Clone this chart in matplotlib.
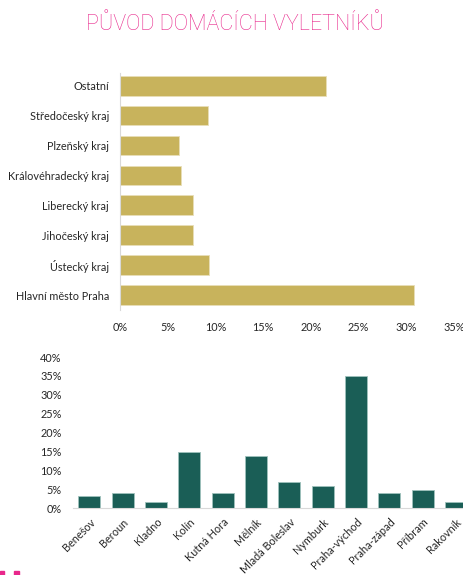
import matplotlib
matplotlib.use('Agg')
import matplotlib.pyplot as plt
from matplotlib.ticker import PercentFormatter
from matplotlib.patches import Rectangle

# kraje (odspodu nahoru)
kraje = ['Hlavní město Praha', 'Ústecký kraj', 'Jihočeský kraj', 'Liberecký kraj',
         'Královéhradecký kraj', 'Plzeňský kraj', 'Středočeský kraj', 'Ostatní']
kraje_vals = [30.8, 9.3, 7.7, 7.7, 6.4, 6.2, 9.2, 21.6]

# okresy Stredoceskeho kraje
okresy = ['Benešov', 'Beroun', 'Kladno', 'Kolín', 'Kutná Hora', 'Mělník',
          'Mladá Boleslav', 'Nymburk', 'Praha-východ', 'Praha-západ', 'Příbram', 'Rakovník']
okresy_vals = [3.2, 3.9, 1.7, 14.9, 4.1, 13.8, 7.0, 5.8, 34.9, 4.1, 4.7, 1.5]

gold = '#C8B35C'
teal = '#1A5E56'
pink = '#E8278B'
txt = '#262626'
font = 'Lato'

fig = plt.figure(figsize=(4.64, 5.75), dpi=100)

fig.text(0.507, 0.958, 'PŮVOD DOMÁCÍCH VYLETNÍKŮ', ha='center', va='center',
         color=pink, fontsize=15.5, family='Roboto', fontweight='light')

# horni graf
ax1 = fig.add_axes([0.2586, 0.4609, 0.7198, 0.412])
ax1.barh(range(len(kraje)), kraje_vals, height=0.66, color=gold,
         edgecolor='#E8DFB8', linewidth=0.6)
ax1.set_xlim(0, 35)
ax1.set_ylim(-0.5, 7.42)
ax1.set_xticks(range(0, 36, 5))
ax1.xaxis.set_major_formatter(PercentFormatter(decimals=0))
ax1.set_yticks(range(len(kraje)))
ax1.set_yticklabels(kraje)
for s in ['top', 'right', 'bottom']:
    ax1.spines[s].set_visible(False)
ax1.spines['left'].set_color('#D9D9D9')
ax1.tick_params(length=0, labelsize=7.8, colors=txt)
ax1.tick_params(axis='y', pad=8)
ax1.tick_params(axis='x', pad=9)
for lab in ax1.get_xticklabels() + ax1.get_yticklabels():
    lab.set_family(font)

# dolni graf
ax2 = fig.add_axes([0.1565, 0.1165, 0.862, 0.2626])
ax2.bar(range(len(okresy)), okresy_vals, width=0.66, color=teal,
        edgecolor='#9FC2BC', linewidth=0.6)
ax2.set_xlim(-0.5, len(okresy) - 0.5)
ax2.set_ylim(0, 40)
ax2.set_yticks(range(0, 41, 5))
ax2.yaxis.set_major_formatter(PercentFormatter(decimals=0))
ax2.set_xticks(range(len(okresy)))
ax2.set_xticklabels(okresy, rotation=45, ha='right', rotation_mode='anchor')
for s in ['top', 'right', 'left']:
    ax2.spines[s].set_visible(False)
ax2.spines['bottom'].set_color('#D9D9D9')
ax2.tick_params(length=0, labelsize=7.8, colors=txt)
ax2.tick_params(axis='x', pad=6)
ax2.tick_params(axis='y', pad=8)
for lab in ax2.get_xticklabels() + ax2.get_yticklabels():
    lab.set_family(font)

# ctverecky loga vlevo dole
fig.patches.append(Rectangle((0.0, 0.0), 4 / 464, 4 / 575, transform=fig.transFigure,
                             color=pink, figure=fig))
fig.patches.append(Rectangle((14 / 464, 0.0), 5 / 464, 4 / 575, transform=fig.transFigure,
                             color=pink, figure=fig))

fig.savefig('out.png', dpi=100)
